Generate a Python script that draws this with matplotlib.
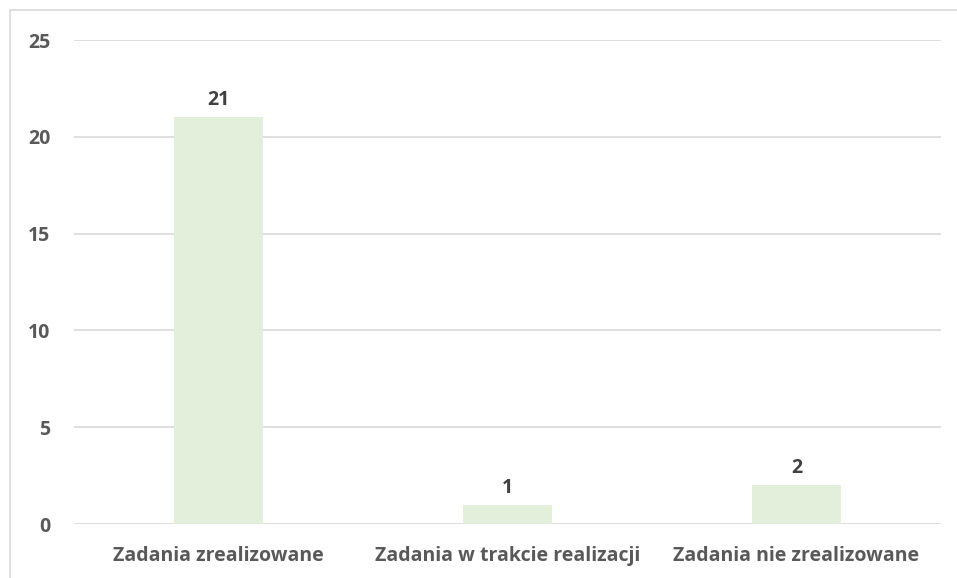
import matplotlib.pyplot as plt
from matplotlib.patches import Rectangle

categories = ["Zadania zrealizowane", "Zadania w trakcie realizacji", "Zadania nie zrealizowane"]
values = [21, 1, 2]
yticks = [0, 5, 10, 15, 20, 25]

plt.rcParams['font.family'] = ['Open Sans', 'DejaVu Sans']

W, H = 957, 578
fig = plt.figure(figsize=(W / 100, H / 100), dpi=100)
ax = fig.add_axes([74 / W, 1 - 524 / H, (941 - 74) / W, (524 - 40) / H])

# ramka wykresu (przycięta z prawej i dołu)
fig.patches.append(Rectangle((10 / W, -0.1), 1.2, 1 - 10 / H + 0.1, transform=fig.transFigure,
                             fill=False, edgecolor='#D9D9D9', linewidth=1.2))

x = range(len(categories))
bars = ax.bar(x, values, width=0.31, color='#E2EFDA', zorder=2)

for b, v in zip(bars, values):
    ax.annotate(str(v), (b.get_x() + b.get_width() / 2, v), xytext=(0, 5),
                textcoords='offset points', ha='center', va='bottom',
                fontsize=14, fontweight='bold', color='#404040')

ax.set_xlim(-0.5, 2.5)
ax.set_ylim(0, 25)
ax.set_yticks(yticks)
ax.set_xticks(list(x))
ax.set_xticklabels(categories)
ax.yaxis.grid(True, color='#D9D9D9', linewidth=1.2, zorder=0)
ax.set_axisbelow(True)
for s in ax.spines.values():
    s.set_visible(False)
ax.tick_params(axis='both', length=0, colors='#595959', labelsize=14)
ax.tick_params(axis='y', pad=17)
ax.tick_params(axis='x', pad=16)
for t in ax.get_xticklabels() + ax.get_yticklabels():
    t.set_fontweight('bold')

fig.savefig('out.png', dpi=100)
